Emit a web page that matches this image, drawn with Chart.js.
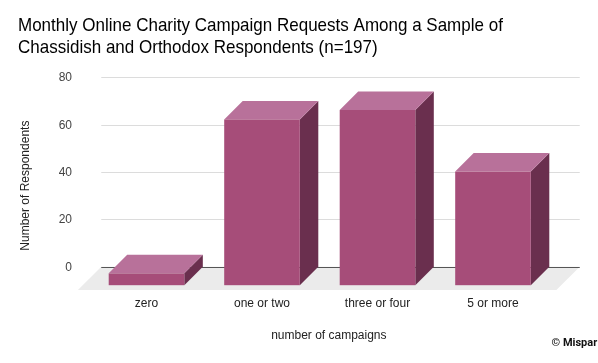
<!DOCTYPE html>
<html>
<head>
<meta charset="utf-8">
<script src="https://cdn.jsdelivr.net/npm/chart.js@4"></script>
<style>
html,body{margin:0;padding:0;background:#fff;}
#wrap{width:598px;height:363px;position:relative;}
</style>
</head>
<body>
<div id="wrap"><canvas id="c" width="598" height="363"></canvas></div>
<script>
const categories = ["zero", "one or two", "three or four", "5 or more"];
const respondents = [5, 70, 74, 48];
const yTicks = [0, 20, 40, 60, 80];
const titleLines = ["Monthly Online Charity Campaign Requests Among a Sample of", "Chassidish and Orthodox Respondents (n=197)"];
const xTitle = "number of campaigns";
const yTitle = "Number of Respondents";
const credit = "\u00A9 Mispar";

const FONT = "'Liberation Sans', Arial, sans-serif";
const DEPTH = 18.5;
const FLOOR = 23.3;

const threeD = {
  id: 'threeD',
  beforeDraw(chart) {
    const {ctx} = chart;
    ctx.save();
    ctx.fillStyle = '#000';
    ctx.font = '19px ' + FONT;
    ctx.textAlign = 'left';
    ctx.textBaseline = 'alphabetic';
    ctx.translate(18, 0);
    ctx.scale(0.895, 1);
    ctx.fillText(titleLines[0], 0, 31);
    ctx.fillText(titleLines[1], 0, 52.8);
    ctx.restore();
  },
  beforeDatasetsDraw(chart) {
    const {ctx, chartArea: a, scales: {x, y}} = chart;
    const wallL = a.left - 6, wallR = a.right + 10.5;
    const y0 = y.getPixelForValue(0);
    ctx.save();
    // floor
    ctx.fillStyle = '#ebebeb';
    ctx.beginPath();
    ctx.moveTo(wallL, y0);
    ctx.lineTo(wallR, y0);
    ctx.lineTo(wallR - FLOOR, y0 + FLOOR);
    ctx.lineTo(wallL - FLOOR, y0 + FLOOR);
    ctx.closePath();
    ctx.fill();
    // gridlines + tick labels
    const ticks = (y.ticks && y.ticks.length) ? y.ticks.map(t => t.value) : yTicks;
    ctx.font = '12px ' + FONT;
    ctx.textAlign = 'right';
    ctx.textBaseline = 'middle';
    ticks.forEach(v => {
      const py = Math.round(y.getPixelForValue(v)) + 0.5;
      ctx.strokeStyle = v === 0 ? '#555' : '#dcdcdc';
      ctx.lineWidth = 1;
      ctx.beginPath();
      ctx.moveTo(wallL, py);
      ctx.lineTo(wallR, py);
      ctx.stroke();
      ctx.fillStyle = '#444';
      ctx.fillText(String(v), 72, py);
    });
    // category labels
    ctx.textAlign = 'center';
    ctx.fillStyle = '#222';
    categories.forEach((c, i) => {
      ctx.fillText(c, x.getPixelForValue(i) - DEPTH, 303.5);
    });
    // axis titles
    ctx.fillText(xTitle, ((wallL - FLOOR) + wallR) / 2, 336);
    ctx.save();
    ctx.translate(26, (a.top + y0 + FLOOR) / 2 + 2);
    ctx.rotate(-Math.PI / 2);
    ctx.fillText(yTitle, 0, 0);
    ctx.restore();
    // credit
    ctx.font = "bold 11px Roboto, 'Liberation Sans', sans-serif";
    ctx.textAlign = 'left';
    ctx.fillStyle = '#111';
    ctx.fillText(credit, 551.5, 343.5);
    ctx.restore();
  },
  afterDatasetsDraw(chart) {
    const {ctx} = chart;
    const meta = chart.getDatasetMeta(0);
    ctx.save();
    meta.data.forEach(el => {
      const p = el.getProps(['x', 'y', 'base', 'width'], true);
      const l = p.x - p.width / 2, r = p.x + p.width / 2;
      const t = p.y, b = p.base;
      const fl = l - DEPTH, fr = r - DEPTH, ft = t + DEPTH, fb = b + DEPTH;
      // side
      ctx.fillStyle = '#6a2f4e';
      ctx.beginPath();
      ctx.moveTo(fr, ft); ctx.lineTo(r, t); ctx.lineTo(r, b); ctx.lineTo(fr, fb);
      ctx.closePath(); ctx.fill();
      // top
      ctx.fillStyle = '#b8719a';
      ctx.beginPath();
      ctx.moveTo(fl, ft); ctx.lineTo(fr, ft); ctx.lineTo(r, t); ctx.lineTo(l, t);
      ctx.closePath(); ctx.fill();
      // front
      ctx.fillStyle = '#a64d79';
      ctx.fillRect(fl, ft, fr - fl, fb - ft);
    });
    ctx.restore();
  }
};

new Chart(document.getElementById('c'), {
  type: 'bar',
  data: {
    labels: categories,
    datasets: [{
      data: respondents,
      backgroundColor: 'rgba(0,0,0,0)',
      borderWidth: 0,
      categoryPercentage: 1,
      barPercentage: 0.6545
    }]
  },
  options: {
    responsive: false,
    animation: false,
    layout: {padding: {left: 107.25, right: 28.75, top: 77.3, bottom: 96.3}},
    scales: {
      x: {display: false, offset: true},
      y: {display: false, min: 0, max: 80, ticks: {stepSize: 20}}
    },
    plugins: {legend: {display: false}, title: {display: false}, tooltip: {enabled: false}}
  },
  plugins: [threeD]
});
</script>
</body>
</html>
